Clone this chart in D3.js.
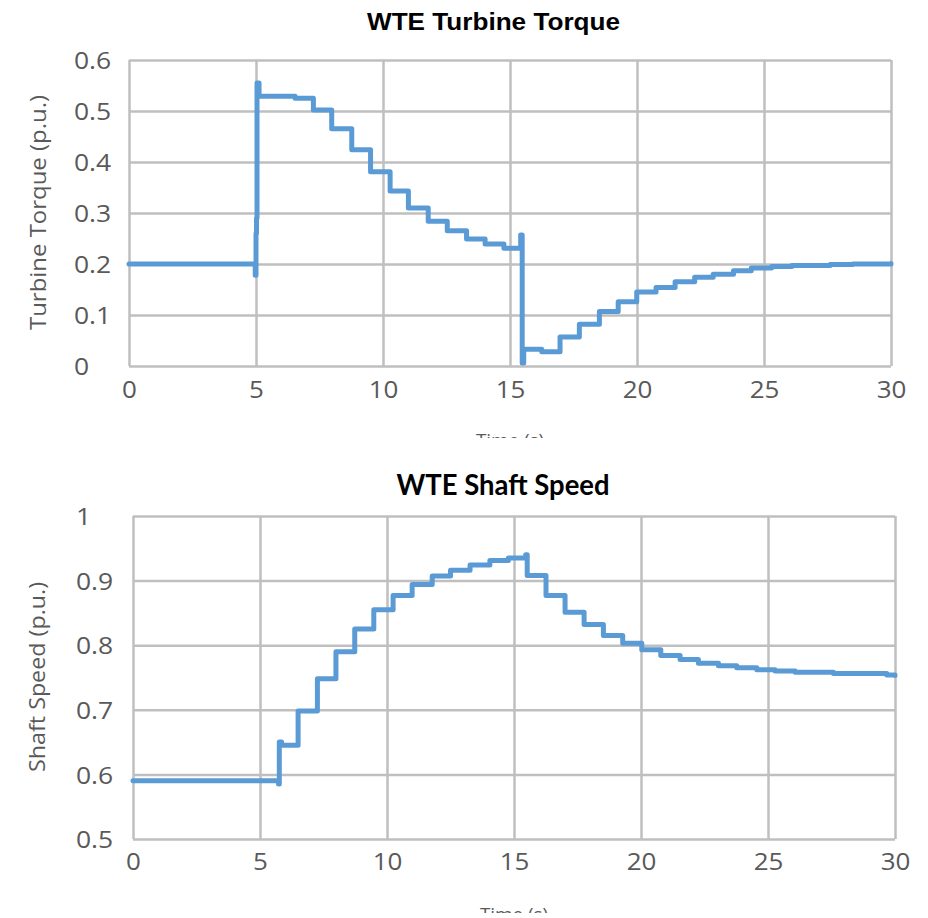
<!DOCTYPE html>
<html>
<head>
<meta charset="utf-8">
<script src="https://cdn.jsdelivr.net/npm/d3@7"></script>
<style>
  html, body { margin: 0; padding: 0; background: #ffffff; }
  svg { display: block; }
</style>
</head>
<body>
<svg id="chart" width="928" height="918"></svg>
<script>
// Shared time axis
const timeTicks = [0, 5, 10, 15, 20, 25, 30];

// Turbine torque (p.u.), step changes of the governor output
const torqueTime = [0, 4.97, 5.0, 5.02, 5.04, 5.12, 6.54, 7.26, 7.98, 8.77, 9.51, 10.28, 11.0, 11.78,
  12.53, 13.29, 14.02, 14.76, 15.42, 15.48, 15.54, 16.25, 16.97, 17.73, 18.52, 19.26, 19.99,
  20.75, 21.5, 22.27, 23.0, 23.8, 24.5, 25.3, 26.1, 27.6, 28.5, 30];
const torqueValue = [0.2, 0.178, 0.26, 0.29, 0.555, 0.529, 0.525, 0.502, 0.465, 0.424, 0.381, 0.343, 0.310, 0.284,
  0.265, 0.249, 0.239, 0.231, 0.257, 0.006, 0.033, 0.028, 0.057, 0.082, 0.107, 0.126, 0.145,
  0.154, 0.165, 0.174, 0.180, 0.187, 0.192, 0.195, 0.197, 0.199, 0.200, 0.201];
const torqueTicks = [0, 0.1, 0.2, 0.3, 0.4, 0.5, 0.6];

// Shaft speed (p.u.)
const speedTime = [0, 5.73, 5.76, 5.85, 6.50, 7.26, 7.99, 8.73, 9.48, 10.24, 10.99, 11.78, 12.5,
  13.27, 14.05, 14.78, 15.46, 15.52, 16.26, 17.01, 17.76, 18.52, 19.28, 20.03, 20.78, 21.54,
  22.26, 23.05, 23.77, 24.56, 25.28, 26.07, 27.58, 29.68, 30];
const speedValue = [0.59, 0.585, 0.65, 0.645, 0.698, 0.748, 0.790, 0.825, 0.855, 0.877, 0.894, 0.907, 0.916,
  0.924, 0.931, 0.935, 0.940, 0.908, 0.877, 0.851, 0.832, 0.815, 0.803, 0.793, 0.784, 0.778,
  0.772, 0.768, 0.765, 0.762, 0.760, 0.758, 0.756, 0.754, 0.753];
const speedTicks = [0.5, 0.6, 0.7, 0.8, 0.9, 1];

const svg = d3.select("#chart");
const gridColor = "#bfbfbf";
const lineColor = "#5b9bd5";
const labelColor = "#595959";
const labelFont = "'Open Sans', sans-serif";

// widen tick labels slightly, keeping their glyph height
function widen(sel, k) {
  sel.each(function () {
    const len = this.getComputedTextLength();
    d3.select(this).attr("textLength", len * k).attr("lengthAdjust", "spacingAndGlyphs");
  });
}

function panel(cfg) {
  const defs = svg.append("defs");
  defs.append("clipPath").attr("id", cfg.id + "-clip")
    .append("rect").attr("x", 0).attr("y", cfg.clipTop).attr("width", 928).attr("height", cfg.clipBottom - cfg.clipTop);

  const g = svg.append("g").attr("clip-path", `url(#${cfg.id}-clip)`);
  const x = d3.scaleLinear().domain([0, 30]).range([cfg.left, cfg.right]);
  const y = d3.scaleLinear().domain(cfg.yDomain).range([cfg.bottom, cfg.top]);
  const w = cfg.right - cfg.left, h = cfg.bottom - cfg.top;

  // horizontal grid
  g.append("g").attr("transform", `translate(${cfg.left},0)`)
    .call(d3.axisLeft(y).tickValues(cfg.yTicks).tickSize(-w).tickFormat(""))
    .call(s => s.select(".domain").remove())
    .call(s => s.selectAll("line").attr("stroke", gridColor).attr("stroke-width", 2.5));

  // vertical grid
  g.append("g").attr("transform", `translate(0,${cfg.bottom})`)
    .call(d3.axisBottom(x).tickValues(timeTicks).tickSize(-h).tickFormat(""))
    .call(s => s.select(".domain").remove())
    .call(s => s.selectAll("line").attr("stroke", gridColor).attr("stroke-width", 2.5));

  // x tick labels
  g.append("g").attr("transform", `translate(0,${cfg.bottom})`)
    .call(d3.axisBottom(x).tickValues(timeTicks).tickSize(0).tickPadding(cfg.xPad).tickFormat(d3.format("d")))
    .call(s => s.select(".domain").remove())
    .call(s => s.selectAll("text").attr("fill", labelColor)
      .style("font-family", labelFont).style("font-size", "23px"))
    .call(s => widen(s.selectAll("text"), 1.13));

  // y tick labels (left aligned)
  g.append("g").attr("transform", `translate(${cfg.left},0)`)
    .call(d3.axisLeft(y).tickValues(cfg.yTicks).tickSize(0).tickFormat(d => d3.format("")(+d.toFixed(1))))
    .call(s => s.select(".domain").remove())
    .call(s => s.selectAll("text").attr("fill", labelColor)
      .attr("text-anchor", "start").attr("x", cfg.yLabelX - cfg.left).attr("dy", "0.38em")
      .style("font-family", labelFont).style("font-size", "23px"))
    .call(s => widen(s.selectAll("text"), 1.15));

  // data line
  const line = d3.line().x(d => x(d[0])).y(d => y(d[1])).curve(d3.curveStepAfter);
  g.append("path")
    .datum(cfg.times.map((t, i) => [t, cfg.values[i]]))
    .attr("fill", "none").attr("stroke", lineColor).attr("stroke-width", 5)
    .attr("stroke-linejoin", "round").attr("stroke-linecap", "round")
    .attr("d", line);

  // titles
  g.append("text").attr("x", cfg.titleX).attr("y", cfg.titleY)
    .attr("text-anchor", "middle").attr("fill", "#000")
    .attr("textLength", cfg.titleLen).attr("lengthAdjust", "spacingAndGlyphs")
    .style("font-family", cfg.titleFont).style("font-weight", "bold").style("font-size", cfg.titleSize + "px")
    .text(cfg.title);

  g.append("text")
    .attr("transform", `translate(${cfg.yTitleX},${cfg.yTitleY}) rotate(-90)`)
    .attr("text-anchor", "middle").attr("fill", labelColor)
    .attr("textLength", cfg.yTitleLen).attr("lengthAdjust", "spacingAndGlyphs")
    .style("font-family", labelFont).style("font-size", "21px")
    .text(cfg.yTitle);

  g.append("text").attr("x", (cfg.left + cfg.right) / 2).attr("y", cfg.xTitleY)
    .attr("text-anchor", "middle").attr("fill", labelColor)
    .attr("textLength", 68).attr("lengthAdjust", "spacingAndGlyphs")
    .style("font-family", labelFont).style("font-size", "19px")
    .text("Time (s)");
}

panel({
  id: "torque", clipTop: 0, clipBottom: 438,
  left: 129, right: 891, top: 60, bottom: 366,
  yDomain: [0, 0.6], yTicks: torqueTicks, yLabelX: 74, xPad: 16,
  times: torqueTime, values: torqueValue,
  title: "WTE Turbine Torque", titleX: 493.5, titleY: 29.5, titleLen: 253,
  titleFont: "'Liberation Sans', Arial, sans-serif", titleSize: 23,
  yTitle: "Turbine Torque (p.u.)", yTitleX: 46, yTitleY: 212.5, yTitleLen: 235,
  xTitleY: 447
});

panel({
  id: "speed", clipTop: 438, clipBottom: 913,
  left: 133, right: 895, top: 516, bottom: 839,
  yDomain: [0.5, 1], yTicks: speedTicks, yLabelX: 76, xPad: 15,
  times: speedTime, values: speedValue,
  title: "WTE Shaft Speed", titleX: 503, titleY: 495, titleLen: 213,
  titleFont: "Lato, 'Open Sans', sans-serif", titleSize: 28,
  yTitle: "Shaft Speed (p.u.)", yTitleX: 45, yTitleY: 677, yTitleLen: 190,
  xTitleY: 921
});
</script>
</body>
</html>
